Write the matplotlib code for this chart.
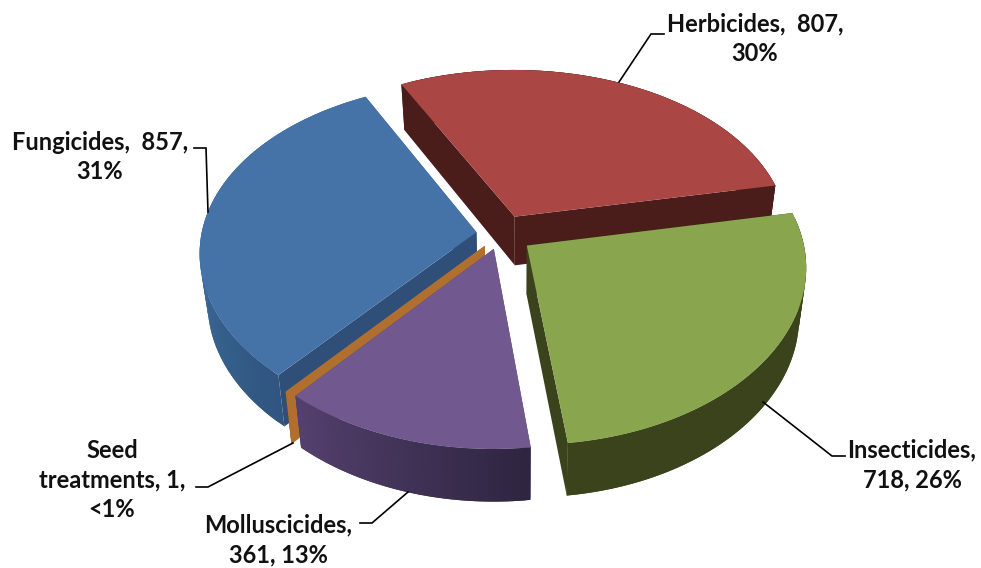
import numpy as np
import matplotlib.pyplot as plt
from matplotlib.colors import to_rgb

plt.rcParams['font.family'] = ['Lato', 'DejaVu Sans']

# chart values, clockwise from the top left
names = ['Herbicides', 'Insecticides', 'Molluscicides', 'Seed treatments', 'Fungicides']
values = [807, 718, 361, 1, 857]
label_text = ['Herbicides,  807,\n30%', 'Insecticides,\n718, 26%', 'Molluscicides,\n361, 13%',
              'Seed\ntreatments, 1,\n<1%', 'Fungicides,  857,\n31%']

# styling per slice
explode = [0.115, 0.115, 0.09, 0.09, 0.09]
top_col = ['#AA4643', '#89A54E', '#71588F', '#B06F2E', '#4572A7']
wall_col = ['#4A1C1A', '#3A431C', '#54406E', '#B06F2E', '#2F4F78']
rim_a = ['#4A1C1A', '#3A431C', '#2E2540', '#B06F2E', '#2F5580']
rim_b = ['#4A1C1A', '#3A431C', '#54406E', '#B06F2E', '#528CBE']
label_xy = [(755, 39), (912, 465), (278, 540), (112, 480), (100, 157)]
leaders = [[(619, 82), (651, 34), (664, 34)],
           [(763, 402), (832, 456), (845, 456)],
           [(408, 492), (372, 523), (360, 523)],
           [(293, 443), (208, 487), (196, 487)],
           [(208, 212), (206, 148), (194, 148)]]

start_angle = 117.0
cx, cy = 501, 234
a, b, kx, ky = 275, 170, 0.115, 0.13


# plan view to screen, with some perspective
def top_pt(u, v):
    return cx + a * u / (1 + kx * v), cy - b * v / (1 + ky * v)


def low_pt(u, v):
    x, y = top_pt(u, v)
    return 520 + (x - 520) * 0.975, y + 49 - 3.3 * v


def fill(ax, pts, col):
    xs, ys = zip(*pts)
    ax.fill(xs, ys, facecolor=col, edgecolor='none')


fig = plt.figure(figsize=(9.81, 5.68), dpi=100)
ax = fig.add_axes([0, 0, 1, 1])
ax.set_xlim(0, 981)
ax.set_ylim(568, 0)
ax.axis('off')

sweep = 360 * np.array(values) / sum(values)
ends = start_angle - np.cumsum(sweep)
starts = ends + sweep
order = [0, 4, 3, 2, 1]  # back to front

for i in order:
    th0, th1 = starts[i], ends[i]
    mid = np.radians((th0 + th1) / 2)
    u0, v0 = explode[i] * np.cos(mid), explode[i] * np.sin(mid)
    th = np.radians(np.linspace(th0, th1, 60))
    us = u0 + np.cos(th)
    vs = v0 + np.sin(th)

    # flat walls along the two cuts
    for j in (0, -1):
        fill(ax, [top_pt(u0, v0), top_pt(us[j], vs[j]), low_pt(us[j], vs[j]), low_pt(u0, v0)], wall_col[i])

    # rounded wall, shaded in overlapping steps so no seams show
    c0, c1 = np.array(to_rgb(rim_a[i])), np.array(to_rgb(rim_b[i]))
    for j in range(len(th) - 1):
        t = j / (len(th) - 2)
        n = min(j + 3, len(th))
        arc = [top_pt(p, q) for p, q in zip(us[j:n], vs[j:n])]
        arc_low = [low_pt(p, q) for p, q in zip(us[j:n], vs[j:n])]
        fill(ax, arc + arc_low[::-1], tuple(c0 + (c1 - c0) * t))

    # top face
    pts = [top_pt(u0, v0)] + [top_pt(p, q) for p, q in zip(us, vs)]
    fill(ax, pts, top_col[i])

for i in range(len(names)):
    xs, ys = zip(*leaders[i])
    ax.plot(xs, ys, color='black', lw=1.2, solid_joinstyle='miter')
    ax.text(label_xy[i][0], label_xy[i][1], label_text[i], ha='center', va='center',
            fontsize=17, fontweight='bold', color='#111111', linespacing=1.36)

plt.savefig('out.png', dpi=100)
